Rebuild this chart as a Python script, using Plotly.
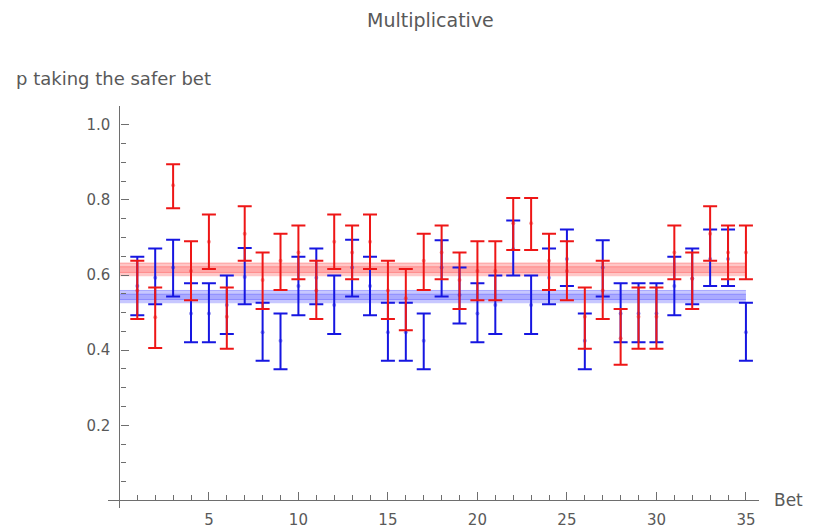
import plotly.graph_objects as go

# ---------------- data ----------------
bets = list(range(1, 36))

red_p = [0.559, 0.488, 0.839, 0.611, 0.689, 0.489, 0.710, 0.587, 0.638, 0.660,
         0.559, 0.689, 0.660, 0.689, 0.559, 0.538, 0.638, 0.660, 0.587, 0.611,
         0.611, 0.738, 0.738, 0.638, 0.611, 0.489, 0.559, 0.432, 0.489, 0.489,
         0.660, 0.590, 0.710, 0.660, 0.660]
red_hi = [0.638, 0.567, 0.895, 0.690, 0.761, 0.567, 0.783, 0.660, 0.710, 0.732,
          0.638, 0.761, 0.732, 0.761, 0.638, 0.616, 0.710, 0.732, 0.660, 0.690,
          0.690, 0.805, 0.805, 0.710, 0.690, 0.567, 0.638, 0.510, 0.567, 0.567,
          0.732, 0.660, 0.783, 0.732, 0.732]
red_lo = [0.483, 0.406, 0.778, 0.533, 0.616, 0.404, 0.638, 0.510, 0.560, 0.589,
          0.483, 0.616, 0.589, 0.616, 0.483, 0.453, 0.560, 0.589, 0.510, 0.533,
          0.533, 0.667, 0.667, 0.560, 0.533, 0.404, 0.483, 0.361, 0.404, 0.404,
          0.589, 0.510, 0.638, 0.589, 0.589]

blue_p = [0.571, 0.593, 0.620, 0.498, 0.498, 0.520, 0.595, 0.448, 0.425, 0.571,
          0.593, 0.520, 0.620, 0.571, 0.448, 0.448, 0.425, 0.620, 0.547, 0.498,
          0.520, 0.669, 0.520, 0.593, 0.643, 0.425, 0.620, 0.498, 0.498, 0.498,
          0.571, 0.591, 0.643, 0.643, 0.448]
blue_hi = [0.649, 0.671, 0.694, 0.578, 0.578, 0.599, 0.672, 0.526, 0.498, 0.649,
           0.671, 0.599, 0.694, 0.649, 0.526, 0.526, 0.498, 0.693, 0.620, 0.578,
           0.599, 0.745, 0.599, 0.671, 0.721, 0.498, 0.693, 0.578, 0.578, 0.578,
           0.649, 0.671, 0.721, 0.721, 0.526]
blue_lo = [0.493, 0.522, 0.543, 0.421, 0.421, 0.443, 0.522, 0.372, 0.349, 0.493,
           0.522, 0.443, 0.543, 0.493, 0.372, 0.372, 0.349, 0.543, 0.471, 0.421,
           0.443, 0.599, 0.443, 0.522, 0.571, 0.349, 0.543, 0.421, 0.421, 0.421,
           0.493, 0.522, 0.571, 0.571, 0.372]

# mean bands (lower, inner-lower, inner-upper, upper)
band_x = [0, 35]
red_band = [0.597, 0.607, 0.622, 0.632]
blue_band = [0.525, 0.535, 0.549, 0.559]

x_tick_vals = [5, 10, 15, 20, 25, 30, 35]
x_tick_text = ["5", "10", "15", "20", "25", "30", "35"]
y_tick_vals = [0.2, 0.4, 0.6, 0.8, 1.0]
y_tick_text = ["0.2", "0.4", "0.6", "0.8", "1.0"]

title_text = "Multiplicative"
y_label = "p taking the safer bet"
x_label = "Bet"

# ---------------- style ----------------
RED = "rgb(238,22,22)"
BLUE = "rgb(22,22,225)"
AXIS = "#6e6e6e"
TXT = "#595959"
FONT = "DejaVu Sans"

fig = go.Figure()


def add_band(vals, rgb):
    lo, ilo, ihi, hi = vals
    fig.add_trace(go.Scatter(x=band_x, y=[lo, lo], mode="lines",
                             line=dict(width=0), hoverinfo="skip", showlegend=False))
    fig.add_trace(go.Scatter(x=band_x, y=[hi, hi], mode="lines", fill="tonexty",
                             fillcolor=f"rgba({rgb},0.30)",
                             line=dict(width=1, color=f"rgba({rgb},0.38)"),
                             hoverinfo="skip", showlegend=False))
    fig.add_trace(go.Scatter(x=band_x, y=[ilo, ilo], mode="lines",
                             line=dict(width=1, color=f"rgba({rgb},0.38)"),
                             hoverinfo="skip", showlegend=False))
    fig.add_trace(go.Scatter(x=band_x, y=[ihi, ihi], mode="lines", fill="tonexty",
                             fillcolor=f"rgba({rgb},0.22)",
                             line=dict(width=1, color=f"rgba({rgb},0.38)"),
                             hoverinfo="skip", showlegend=False))


add_band(blue_band, "70,70,255")
add_band(red_band, "255,70,70")


def add_series(p, hi, lo, color):
    fig.add_trace(go.Scatter(
        x=bets, y=p, mode="markers",
        marker=dict(size=4, color=color, opacity=0.45),
        error_y=dict(type="data", symmetric=False,
                     array=[h - v for h, v in zip(hi, p)],
                     arrayminus=[v - l for v, l in zip(p, lo)],
                     color=color, thickness=2, width=7),
        showlegend=False))


add_series(blue_p, blue_hi, blue_lo, BLUE)
add_series(red_p, red_hi, red_lo, RED)

x_minor = [i for i in range(1, 36) if i % 5 != 0]
y_minor = [round(0.05 * k, 2) for k in range(1, 22) if k % 4 != 0]

X0, X1 = -0.637, 35.73
Y0, Y1 = -0.02, 1.05

# the page body adds an 8px margin, so the figure is 8px smaller each way
fig.update_layout(
    width=809, height=520,
    margin=dict(l=100, r=58, t=98, b=20),
    paper_bgcolor="white", plot_bgcolor="white",
    font=dict(family=FONT, color=TXT, size=15),
    xaxis=dict(range=[X0, X1], anchor="free", position=(0 - Y0) / (Y1 - Y0),
               showgrid=False, zeroline=False, showline=True, linecolor=AXIS,
               linewidth=1.3, ticks="inside", ticklen=8, tickwidth=1.3, tickcolor=AXIS,
               tickmode="array", tickvals=x_tick_vals, ticktext=x_tick_text,
               tickfont=dict(family=FONT, size=15, color=TXT),
               ticklabelstandoff=5, automargin=False,
               minor=dict(ticks="inside", ticklen=5, tickwidth=1.3, tickcolor=AXIS,
                          tickmode="array", tickvals=x_minor, showgrid=False)),
    yaxis=dict(range=[Y0, Y1], anchor="free", position=(0 - X0) / (X1 - X0),
               showgrid=False, zeroline=False, showline=True, linecolor=AXIS,
               linewidth=1.3, ticks="inside", ticklen=8, tickwidth=1.3, tickcolor=AXIS,
               tickmode="array", tickvals=y_tick_vals, ticktext=y_tick_text,
               tickfont=dict(family=FONT, size=15, color=TXT),
               ticklabelstandoff=6, automargin=False,
               minor=dict(ticks="inside", ticklen=5, tickwidth=1.3, tickcolor=AXIS,
                          tickmode="array", tickvals=y_minor, showgrid=False)),
    annotations=[
        dict(text=title_text, xref="paper", yref="paper", x=(430 - 108) / 651,
             y=(508 - 8) / 402, xanchor="center", yanchor="top", showarrow=False,
             borderpad=0, font=dict(family=FONT, size=19, color=TXT)),
        dict(text=y_label, xref="paper", yref="paper", x=(14 - 108) / 651,
             y=(508 - 78) / 402, xanchor="left", yanchor="middle", showarrow=False,
             font=dict(family=FONT, size=18, color=TXT)),
        dict(text=x_label, xref="paper", yref="paper", x=(772 - 108) / 651,
             y=(508 - 500) / 402, xanchor="left", yanchor="middle", showarrow=False,
             font=dict(family=FONT, size=17, color=TXT)),
    ],
)

fig.write_html("out.html")
